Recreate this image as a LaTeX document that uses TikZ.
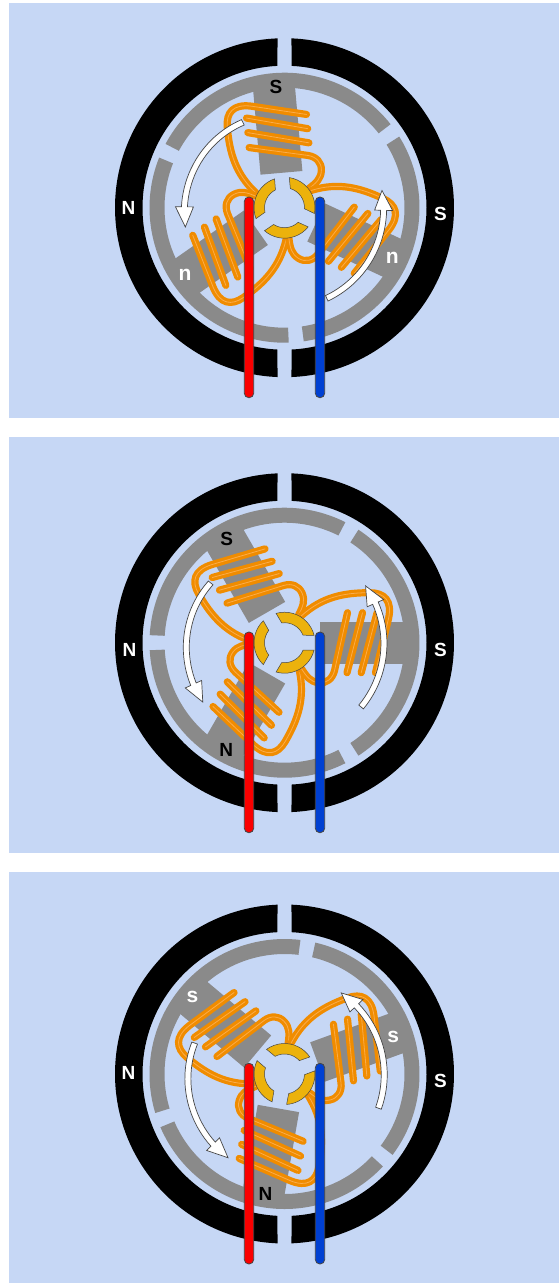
\documentclass[tikz,border=0pt]{standalone}
\usepackage{fontspec}
\setmainfont{Liberation Sans}
\definecolor{panelblue}{RGB}{198,215,245}
\definecolor{statorgray}{RGB}{138,138,138}
\definecolor{coilorange}{RGB}{240,140,0}
\definecolor{coilglow}{RGB}{250,172,75}
\definecolor{segyellow}{RGB}{236,178,12}
\definecolor{brushred}{RGB}{250,0,0}
\definecolor{brushblue}{RGB}{0,64,210}
\definecolor{edgegray}{RGB}{70,70,70}
\tikzset{
  x=1pt, y=1pt,
  coilwire/.style={draw=coilorange, double=coilglow, double distance=0.8pt, line width=3.2pt, line cap=round, line join=round},
  brushbar/.style={fill=#1, draw=edgegray, line width=0.8pt, rounded corners=4.5pt},
  spinarrow/.style={fill=white, draw=edgegray, line width=0.7pt, line join=miter},
  segment/.style={fill=segyellow, draw=edgegray, line width=0.5pt},
  magnetlabel/.style={text=white, font=\fontsize{19}{21}\selectfont\bfseries, inner sep=0pt},
  polelabel/.style={text=#1, font=\fontsize{19}{21}\selectfont\bfseries, inner sep=0pt},
  smalllabel/.style={text=white, font=\fontsize{21}{23}\selectfont\bfseries, inner sep=0pt}
}
\newcommand{\turnarrow}[4]{
  \pgfmathsetmacro\headang{#3-11.5}
  \pgfmathsetmacro\headrad{#2+(#4-#2)*(\headang-#1)/(#3-#1)}
  \draw[spinarrow] plot[domain=#1:\headang, samples=24] (\x:{#2+(#4-#2)*(\x-#1)/(#3-#1)+3})
    -- (\headang:\headrad+9) -- (#3:#4) -- (\headang:\headrad-9)
    -- plot[domain=\headang:#1, samples=24] (\x:{#2+(#4-#2)*(\x-#1)/(#3-#1)-3}) -- cycle;
}
\newcommand{\rotorpanel}[3]{
  \coordinate (#1) at (284.5,#2);
  \begin{scope}[shift={(284.5,#2)}]
    \foreach \s in {1,-1}
      \fill[black, xscale=\s] (87.64:169.5) arc[start angle=87.64, end angle=-87.64, radius=169.5]
        -- (-87.15:142) arc[start angle=-87.15, end angle=87.15, radius=142] -- cycle;
    \foreach \a in {0,120,240} {
      \begin{scope}[rotate={#3+\a}]
        \fill[statorgray] (-56.8:135) arc[start angle=-56.8, end angle=56.8, radius=135]
          -- (56.7:120) arc[start angle=56.7, end angle=-56.7, radius=120] -- cycle;
        \fill[statorgray] (35,-21) rectangle (125,21);
        \draw[coilwire] (91,-30) -- (104,24) .. controls (108,42) and (100,50) .. (85,50)
          .. controls (60,50) and (38,46) .. (17,27);
        \draw[coilwire] (76.7,-30) -- (92.6,30);
        \draw[coilwire] (62.5,-30) -- (78,30);
        \draw[coilwire] (63,30) -- (50,-28) .. controls (48,-36) and (42,-41) .. (34,-40)
          .. controls (26,-39) and (22,-34) .. (17,-26);
      \end{scope}
    }
    \foreach \a in {0,120,240} {
      \begin{scope}[rotate={#3+\a}]
        \draw[segment] (14:30.5) arc[start angle=14, end angle=106, radius=30.5]
          -- (98:20) arc[start angle=98, end angle=22, radius=20] -- cycle;
      \end{scope}
    }
    \begin{scope}[rotate=#3]
      \turnarrow{21}{95}{96}{101}
      \turnarrow{200}{100}{275}{99}
    \end{scope}
    \draw[brushbar=brushred] (-40.2,10.7) rectangle (-30.8,-190);
    \draw[brushbar=brushblue] (30.8,10.7) rectangle (40.2,-190);
  \end{scope}
}
\begin{document}
\begin{tikzpicture}
  \useasboundingbox (0,0) rectangle (559,-1283);
  \fill[panelblue] (9,-3) rectangle (559,-418);
  \fill[panelblue] (9,-437) rectangle (559,-853);
  \fill[panelblue] (9,-872) rectangle (559,-1283);

  \rotorpanel{rotorA}{-207.7}{95}
  \rotorpanel{rotorB}{-642.7}{120}
  \rotorpanel{rotorC}{-1074}{140}

  \node[magnetlabel] (northA) at ([shift={(-156,0)}]rotorA) {N};
  \node[magnetlabel] (southA) at ([shift={(156,-6.5)}]rotorA) {S};
  \node[polelabel=black] (poleA1) at ([shift={(94:121)}]rotorA) {S};
  \node[smalllabel] (poleA2) at ([shift={(214:120)}]rotorA) {n};
  \node[smalllabel] (poleA3) at ([shift={(335:119)}]rotorA) {n};

  \node[magnetlabel] (northB) at ([shift={(-155,-7)}]rotorB) {N};
  \node[magnetlabel] (southB) at ([shift={(156,-7)}]rotorB) {S};
  \node[polelabel=black] (poleB1) at ([shift={(119:119)}]rotorB) {S};
  \node[polelabel=black] (poleB2) at ([shift={(241.5:122)}]rotorB) {N};

  \node[magnetlabel] (northC) at ([shift={(-156,0.7)}]rotorC) {N};
  \node[magnetlabel] (southC) at ([shift={(156,-6.7)}]rotorC) {S};
  \node[smalllabel] (poleC1) at ([shift={(140:120)}]rotorC) {s};
  \node[smalllabel] (poleC2) at ([shift={(19:115)}]rotorC) {s};
  \node[polelabel=black] (poleC3) at ([shift={(261:121.5)}]rotorC) {N};
\end{tikzpicture}
\end{document}
